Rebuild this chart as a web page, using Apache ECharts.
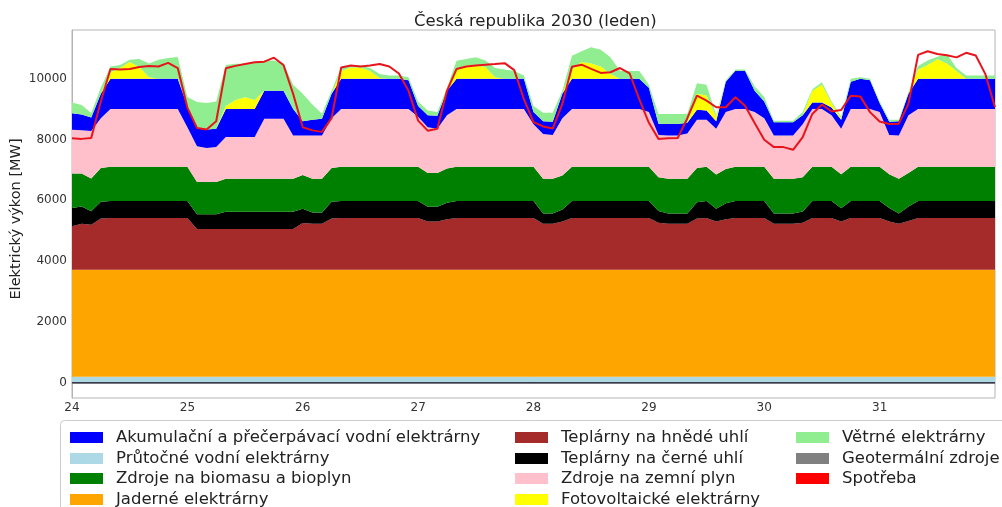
<!DOCTYPE html>
<html>
<head>
<meta charset="utf-8">
<title>Česká republika 2030 (leden)</title>
<script src="https://cdn.jsdelivr.net/npm/echarts@6/dist/echarts.min.js"></script>
<style>
  html, body { margin: 0; padding: 0; background: #fff; }
  #chart { width: 1002px; height: 507px; }
</style>
</head>
<body>
<div id="chart"></div>
<script>
// hodiny od 24. 1. 00:00, krok 2 h
const hours = [
  0, 2, 4, 6, 8, 10, 12, 14, 16, 18, 20, 22,
  24, 26, 28, 30, 32, 34, 36, 38, 40, 42, 44, 46,
  48, 50, 52, 54, 56, 58, 60, 62, 64, 66, 68, 70,
  72, 74, 76, 78, 80, 82, 84, 86, 88, 90, 92, 94,
  96, 98, 100, 102, 104, 106, 108, 110, 112, 114, 116, 118,
  120, 122, 124, 126, 128, 130, 132, 134, 136, 138, 140, 142,
  144, 146, 148, 150, 152, 154, 156, 158, 160, 162, 164, 166,
  168, 170, 172, 174, 176, 178, 180, 182, 184, 186, 188, 190,
  192
];
const dayLabels = ['24', '25', '26', '27', '28', '29', '30', '31'];
const yTicks = [0, 2000, 4000, 6000, 8000, 10000];

// geotermální zdroje = 0 MW
const geothermal = [
  0, 0, 0, 0, 0, 0, 0, 0, 0, 0, 0, 0, 0, 0, 0, 0, 0, 0, 0, 0, 0, 0, 0, 0,
  0, 0, 0, 0, 0, 0, 0, 0, 0, 0, 0, 0, 0, 0, 0, 0, 0, 0, 0, 0, 0, 0, 0, 0,
  0, 0, 0, 0, 0, 0, 0, 0, 0, 0, 0, 0, 0, 0, 0, 0, 0, 0, 0, 0, 0, 0, 0, 0,
  0, 0, 0, 0, 0, 0, 0, 0, 0, 0, 0, 0, 0, 0, 0, 0, 0, 0, 0, 0, 0, 0, 0, 0,
  0
];

// horní hrany jednotlivých vrstev (MW)
const rorTop = [
  200, 200, 200, 200, 200, 200, 200, 200, 200, 200, 200, 200,
  200, 200, 200, 200, 200, 200, 200, 200, 200, 200, 200, 200,
  200, 200, 200, 200, 200, 200, 200, 200, 200, 200, 200, 200,
  200, 200, 200, 200, 200, 200, 200, 200, 200, 200, 200, 200,
  200, 200, 200, 200, 200, 200, 200, 200, 200, 200, 200, 200,
  200, 200, 200, 200, 200, 200, 200, 200, 200, 200, 200, 200,
  200, 200, 200, 200, 200, 200, 200, 200, 200, 200, 200, 200,
  200, 200, 200, 200, 200, 200, 200, 200, 200, 200, 200, 200,
  200
];
const nuclearTop = [
  3720, 3720, 3720, 3720, 3720, 3720, 3720, 3720, 3720, 3720, 3720, 3720,
  3720, 3720, 3720, 3720, 3720, 3720, 3720, 3720, 3720, 3720, 3720, 3720,
  3720, 3720, 3720, 3720, 3720, 3720, 3720, 3720, 3720, 3720, 3720, 3720,
  3720, 3720, 3720, 3720, 3720, 3720, 3720, 3720, 3720, 3720, 3720, 3720,
  3720, 3720, 3720, 3720, 3720, 3720, 3720, 3720, 3720, 3720, 3720, 3720,
  3720, 3720, 3720, 3720, 3720, 3720, 3720, 3720, 3720, 3720, 3720, 3720,
  3720, 3720, 3720, 3720, 3720, 3720, 3720, 3720, 3720, 3720, 3720, 3720,
  3720, 3720, 3720, 3720, 3720, 3720, 3720, 3720, 3720, 3720, 3720, 3720,
  3720
];
const ligniteTop = [
  5150, 5230, 5200, 5400, 5420, 5420, 5420, 5420, 5420, 5420, 5420, 5420,
  5420, 5060, 5060, 5060, 5060, 5060, 5060, 5060, 5060, 5060, 5060, 5060,
  5250, 5230, 5230, 5400, 5420, 5420, 5420, 5420, 5420, 5420, 5420, 5420,
  5420, 5300, 5300, 5380, 5420, 5420, 5420, 5420, 5420, 5420, 5420, 5420,
  5420, 5230, 5230, 5300, 5420, 5420, 5420, 5420, 5420, 5420, 5420, 5420,
  5420, 5260, 5230, 5230, 5230, 5400, 5420, 5300, 5380, 5420, 5420, 5420,
  5420, 5230, 5230, 5230, 5260, 5420, 5420, 5420, 5300, 5420, 5420, 5420,
  5420, 5300, 5230, 5320, 5420, 5420, 5420, 5420, 5420, 5420, 5420, 5420,
  5420
];
const coalTop = [
  5750, 5800, 5640, 5950, 5980, 5980, 5980, 5980, 5980, 5980, 5980, 5980,
  5980, 5540, 5540, 5540, 5620, 5620, 5620, 5620, 5620, 5620, 5620, 5620,
  5720, 5600, 5600, 5950, 5980, 5980, 5980, 5980, 5980, 5980, 5980, 5980,
  5980, 5790, 5790, 5920, 5980, 5980, 5980, 5980, 5980, 5980, 5980, 5980,
  5980, 5570, 5570, 5700, 5980, 5980, 5980, 5980, 5980, 5980, 5980, 5980,
  5980, 5650, 5570, 5570, 5570, 5940, 5980, 5720, 5900, 5980, 5980, 5980,
  5980, 5570, 5570, 5570, 5630, 5980, 5980, 5980, 5740, 5980, 5980, 5980,
  5980, 5750, 5570, 5800, 5980, 5980, 5980, 5980, 5980, 5980, 5980, 5980,
  5980
];
const biomassTop = [
  6880, 6880, 6720, 7060, 7100, 7100, 7100, 7100, 7100, 7100, 7100, 7100,
  7100, 6600, 6600, 6600, 6710, 6710, 6710, 6710, 6710, 6710, 6710, 6710,
  6830, 6710, 6710, 7060, 7100, 7100, 7100, 7100, 7100, 7100, 7100, 7100,
  7100, 6900, 6900, 7050, 7100, 7100, 7100, 7100, 7100, 7100, 7100, 7100,
  7100, 6710, 6710, 6820, 7100, 7100, 7100, 7100, 7100, 7100, 7100, 7100,
  7100, 6760, 6710, 6710, 6710, 7060, 7100, 6850, 7030, 7100, 7100, 7100,
  7100, 6710, 6710, 6710, 6760, 7100, 7100, 7100, 6860, 7100, 7100, 7100,
  7100, 6860, 6710, 6900, 7100, 7100, 7100, 7100, 7100, 7100, 7100, 7100,
  7100
];
const gasTop = [
  8320, 8300, 8280, 8700, 9000, 9000, 9000, 9000, 9000, 9000, 9000, 9000,
  8400, 7780, 7720, 7750, 8080, 8080, 8080, 8080, 8680, 8680, 8680, 8130,
  8130, 8130, 8130, 8700, 9000, 9000, 9000, 9000, 9000, 9000, 9000, 9000,
  8750, 8400, 8350, 8800, 9000, 9000, 9000, 9000, 9000, 9000, 9000, 9000,
  8500, 8180, 8150, 8700, 9000, 9000, 9000, 9000, 9000, 9000, 9000, 9000,
  8900, 8150, 8130, 8130, 8200, 8650, 8650, 8350, 8900, 9000, 9000, 8900,
  8700, 8130, 8130, 8130, 8500, 9000, 9000, 8800, 8350, 9000, 9000, 9000,
  8900, 8150, 8130, 8800, 9000, 9000, 9000, 9000, 9000, 9000, 9000, 9000,
  9000
];
const storageTop = [
  8860, 8820, 8720, 9500, 10000, 10000, 10000, 10000, 10000, 10000, 10000, 10000,
  9100, 8350, 8330, 8350, 9000, 9000, 9000, 9000, 9600, 9600, 9600, 9000,
  8600, 8650, 8680, 9500, 10000, 10000, 10000, 10000, 10000, 10000, 10000, 9950,
  9100, 8800, 8780, 9600, 10000, 10000, 10000, 10000, 10000, 10000, 10000, 10000,
  8900, 8600, 8580, 9500, 10000, 10000, 10000, 10000, 10000, 10000, 10000, 10000,
  9700, 8520, 8510, 8510, 8550, 8980, 8950, 8600, 9900, 10260, 10260, 9600,
  9250, 8570, 8570, 8570, 8800, 9220, 9220, 9050, 8650, 9900, 10000, 9950,
  9200, 8580, 8600, 9500, 10000, 10000, 10000, 10000, 10000, 10000, 10000, 10000,
  10000
];
const solarTop = [
  8860, 8820, 8720, 9500, 10200, 10350, 10550, 10380, 10050, 10000, 10000, 10000,
  9100, 8350, 8330, 8350, 9100, 9300, 9390, 9300, 9600, 9600, 9600, 9000,
  8600, 8650, 8680, 9500, 10250, 10370, 10370, 10250, 10020, 10000, 10000, 9950,
  9100, 8800, 8780, 9600, 10320, 10440, 10440, 10380, 10050, 10000, 10000, 10000,
  8900, 8600, 8580, 9500, 10300, 10550, 10500, 10400, 10150, 10000, 10000, 10000,
  9700, 8520, 8510, 8510, 8550, 9500, 9450, 8750, 9900, 10260, 10260, 9600,
  9250, 8570, 8570, 8570, 8800, 9600, 9800, 9200, 8700, 9900, 10000, 9950,
  9200, 8580, 8600, 9500, 10300, 10450, 10640, 10500, 10250, 10000, 10000, 10000,
  10000
];
const windTop = [
  9220, 9130, 8870, 9700, 10400, 10450, 10620, 10650, 10500, 10620, 10680, 10710,
  9400, 9230, 9200, 9250, 10450, 10490, 10490, 10520, 10590, 10600, 10500, 9800,
  9500, 9150, 8850, 9600, 10380, 10430, 10430, 10350, 10150, 10100, 10100, 10050,
  9250, 8950, 8900, 9700, 10590, 10650, 10700, 10600, 10350, 10300, 10250, 10100,
  9100, 8880, 8880, 9600, 10750, 10900, 11030, 10950, 10700, 10250, 10250, 10250,
  9800, 8840, 8840, 8840, 8850, 9850, 9800, 8800, 9950, 10300, 10300, 9750,
  9400, 8620, 8620, 8620, 8900, 9650, 9880, 9250, 8750, 10000, 10050, 10000,
  9250, 8650, 8650, 9550, 10420, 10600, 10720, 10810, 10350, 10100, 10100, 10100,
  10100
];
const consumption = [
  8040, 8020, 8050, 9250, 10320, 10300, 10320, 10380, 10420, 10400, 10520, 10350,
  9050, 8380, 8330, 8600, 10340, 10420, 10480, 10540, 10560, 10690, 10450, 9500,
  8400, 8300, 8250, 8700, 10370, 10430, 10400, 10430, 10480, 10400, 10170, 9600,
  8620, 8290, 8350, 9600, 10320, 10400, 10430, 10460, 10480, 10510, 10280, 9330,
  8570, 8430, 8360, 9170, 10390, 10460, 10320, 10190, 10210, 10350, 10170, 9330,
  8550, 8020, 8040, 8050, 8700, 9440, 9280, 9060, 9060, 9390, 9110, 8540,
  7990, 7750, 7750, 7660, 8080, 8840, 9150, 8920, 8970, 9440, 9410, 8900,
  8590, 8510, 8520, 9170, 10780, 10900, 10810, 10770, 10700, 10850, 10760, 10150,
  9060
];

// vrstvy zdola nahoru
const layers = [
  ['Průtočné vodní elektrárny', rorTop, '#add8e6'],
  ['Jaderné elektrárny', nuclearTop, '#ffa500'],
  ['Teplárny na hnědé uhlí', ligniteTop, '#a52a2a'],
  ['Teplárny na černé uhlí', coalTop, '#000000'],
  ['Zdroje na biomasu a bioplyn', biomassTop, '#008000'],
  ['Zdroje na zemní plyn', gasTop, '#ffc0cb'],
  ['Akumulační a přečerpávací vodní elektrárny', storageTop, '#0000ff'],
  ['Fotovoltaické elektrárny', solarTop, '#ffff00'],
  ['Větrné elektrárny', windTop, '#90ee90']
];

const series = [{
  name: 'Geotermální zdroje',
  type: 'line',
  stack: 'mix',
  data: geothermal,
  showSymbol: false,
  color: '#808080',
  lineStyle: { color: '#3a3a4a', width: 1.5 },
  z: 4
}];
let below = geothermal;
layers.forEach(([name, top, color]) => {
  const prev = below;
  series.push({
    name,
    type: 'line',
    stack: 'mix',
    data: top.map((v, i) => Math.max(0, v - prev[i])),
    showSymbol: false,
    color,
    lineStyle: { width: 0 },
    areaStyle: { color, opacity: 1 },
    z: 2
  });
  below = top;
});
series.push({
  name: 'Spotřeba',
  type: 'line',
  data: consumption,
  showSymbol: false,
  color: '#ff0000',
  lineStyle: { color: '#e8141c', width: 2 },
  z: 5
});

// legenda: 3 sloupce, položky po sloupcích
const legendItems = [
  ['Akumulační a přečerpávací vodní elektrárny', 0, 0],
  ['Průtočné vodní elektrárny', 0, 1],
  ['Zdroje na biomasu a bioplyn', 0, 2],
  ['Jaderné elektrárny', 0, 3],
  ['Teplárny na hnědé uhlí', 1, 0],
  ['Teplárny na černé uhlí', 1, 1],
  ['Zdroje na zemní plyn', 1, 2],
  ['Fotovoltaické elektrárny', 1, 3],
  ['Větrné elektrárny', 2, 0],
  ['Geotermální zdroje', 2, 1],
  ['Spotřeba', 2, 2]
];
const colLeft = [70, 515, 796];
const rowTop = [429, 450, 470, 491];
const legends = legendItems.map(([name, col, row]) => ({
  left: colLeft[col],
  top: rowTop[row],
  padding: 0,
  icon: 'rect',
  itemWidth: 33,
  itemHeight: 11,
  selectedMode: false,
  textStyle: { fontSize: 16.5, color: '#222', fontFamily: 'DejaVu Sans', padding: [0, 0, 0, 8] },
  data: [name]
}));

const chart = echarts.init(document.getElementById('chart'));
chart.setOption({
  animation: false,
  textStyle: { fontFamily: 'DejaVu Sans' },
  title: {
    text: 'Česká republika 2030 (leden)',
    left: 409,
    top: 8,
    textStyle: { fontSize: 16.5, fontWeight: 'normal', color: '#222', fontFamily: 'DejaVu Sans' }
  },
  grid: {
    left: 72, right: 7, top: 30, bottom: 109,
    outerBoundsMode: 'none',
    show: true, borderColor: '#b4b4b4', borderWidth: 1
  },
  xAxis: {
    type: 'category',
    data: hours,
    boundaryGap: false,
    axisLine: { lineStyle: { color: '#b4b4b4' } },
    axisTick: { show: false },
    splitLine: { show: false },
    axisLabel: {
      fontSize: 12,
      color: '#333',
      margin: 4,
      interval: (idx, value) => Number(value) % 24 === 0,
      formatter: value => dayLabels[Number(value) / 24] || ''
    }
  },
  yAxis: {
    type: 'value',
    min: -500,
    max: 11600,
    name: 'Elektrický výkon [MW]',
    nameLocation: 'middle',
    nameGap: 48,
    nameMoveOverlap: false,
    nameTextStyle: { fontSize: 14.5, color: '#222', padding: [0, 10, 0, 0] },
    axisLine: { show: true, lineStyle: { color: '#b4b4b4' } },
    axisTick: { show: false, customValues: yTicks },
    splitLine: { show: false },
    axisLabel: { customValues: yTicks, fontSize: 12, color: '#333', margin: 5, formatter: v => String(v) }
  },
  legend: legends,
  graphic: [{
    type: 'rect',
    z: 0,
    shape: { x: 60.5, y: 420.5, width: 980, height: 120, r: 4 },
    style: { fill: '#fff', stroke: '#cccccc', lineWidth: 1 }
  }],
  series
});
</script>
</body>
</html>
